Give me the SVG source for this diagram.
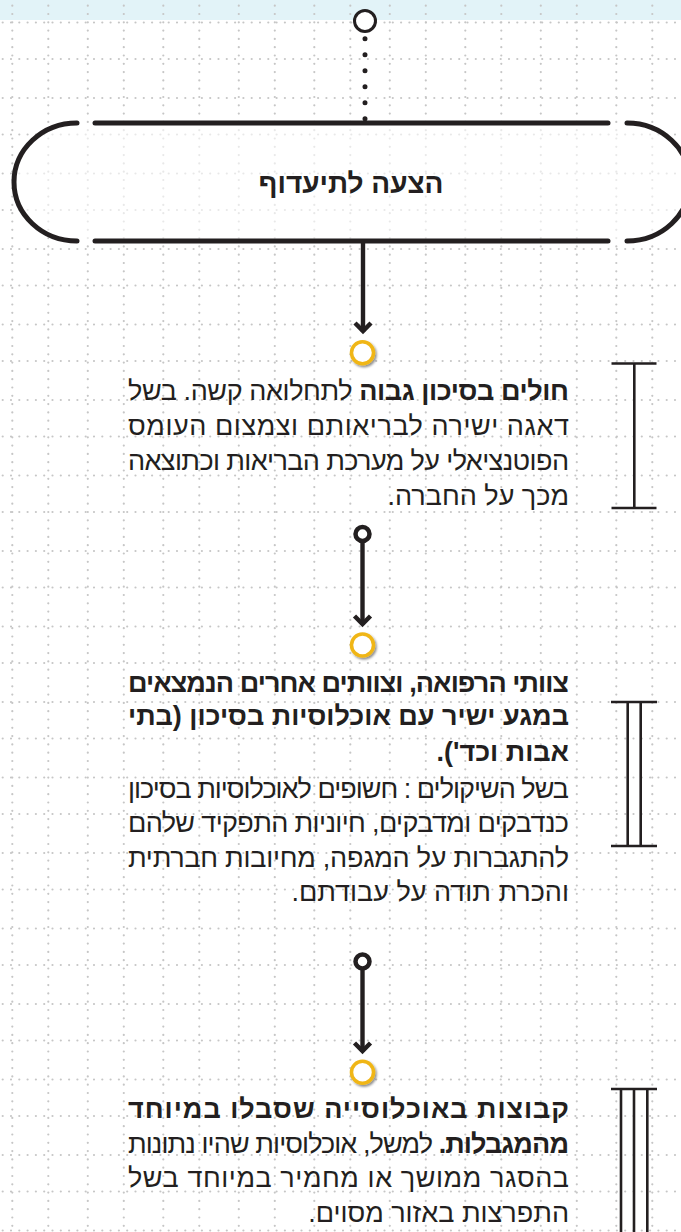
<svg xmlns="http://www.w3.org/2000/svg" width="681" height="1232" viewBox="0 0 681 1232">
<defs>
<style>
.g line{stroke:#c6c6c6;stroke-width:2.2;stroke-linecap:round;stroke-dasharray:0 8.3}
.t{font-family:"Liberation Sans","DejaVu Sans",sans-serif;font-size:27px;fill:#231f20;direction:rtl}
.b{font-weight:700}
.ln{stroke:#231f20;fill:none}
.br{stroke:#231f20;stroke-width:2.6;fill:none}
.y{fill:#fff;stroke:#f0b619;stroke-width:3.5;filter:url(#sh)}
.ring{fill:#fff;stroke:#231f20;stroke-width:4.5}
</style>
<filter id="sh" x="-50%" y="-50%" width="200%" height="200%">
<feDropShadow dx="1.5" dy="1.8" stdDeviation="1.2" flood-color="#000" flood-opacity="0.45"/>
</filter>
<marker id="ah" markerUnits="userSpaceOnUse" viewBox="-12 -12 24 24" markerWidth="24" markerHeight="24" refX="0" refY="0" orient="auto">
<path d="M-9,-8 L-1,0 L-9,8" fill="none" stroke="#231f20" stroke-width="4.5" stroke-linecap="butt" stroke-linejoin="miter"/>
</marker>
</defs>
<rect x="0" y="0" width="681" height="1232" fill="#fff"/>
<rect x="0" y="0" width="681" height="20" fill="#e2f3f8"/>
<g class="g">
<line x1="12.3" y1="5.7" x2="12.3" y2="1232"/><line x1="48.3" y1="5.7" x2="48.3" y2="1232"/>
<line x1="87.8" y1="5.7" x2="87.8" y2="1232"/><line x1="123.8" y1="5.7" x2="123.8" y2="1232"/>
<line x1="163.3" y1="5.7" x2="163.3" y2="1232"/><line x1="199.3" y1="5.7" x2="199.3" y2="1232"/>
<line x1="238.8" y1="5.7" x2="238.8" y2="1232"/><line x1="274.8" y1="5.7" x2="274.8" y2="1232"/>
<line x1="314.3" y1="5.7" x2="314.3" y2="1232"/><line x1="350.3" y1="5.7" x2="350.3" y2="1232"/>
<line x1="389.8" y1="5.7" x2="389.8" y2="1232"/><line x1="425.8" y1="5.7" x2="425.8" y2="1232"/>
<line x1="465.3" y1="5.7" x2="465.3" y2="1232"/><line x1="501.3" y1="5.7" x2="501.3" y2="1232"/>
<line x1="540.8" y1="5.7" x2="540.8" y2="1232"/><line x1="576.8" y1="5.7" x2="576.8" y2="1232"/>
<line x1="616.3" y1="5.7" x2="616.3" y2="1232"/><line x1="652.3" y1="5.7" x2="652.3" y2="1232"/>
<line x1="2.7" y1="22.5" x2="681" y2="22.5"/><line x1="2.7" y1="59" x2="681" y2="59"/>
<line x1="2.7" y1="98" x2="681" y2="98"/><line x1="2.7" y1="134.5" x2="681" y2="134.5"/>
<line x1="2.7" y1="173.5" x2="681" y2="173.5"/><line x1="2.7" y1="210" x2="681" y2="210"/>
<line x1="2.7" y1="249" x2="681" y2="249"/><line x1="2.7" y1="285.5" x2="681" y2="285.5"/>
<line x1="2.7" y1="324.5" x2="681" y2="324.5"/><line x1="2.7" y1="361" x2="681" y2="361"/>
<line x1="2.7" y1="400" x2="681" y2="400"/><line x1="2.7" y1="436.5" x2="681" y2="436.5"/>
<line x1="2.7" y1="475.5" x2="681" y2="475.5"/><line x1="2.7" y1="512" x2="681" y2="512"/>
<line x1="2.7" y1="551" x2="681" y2="551"/><line x1="2.7" y1="587.5" x2="681" y2="587.5"/>
<line x1="2.7" y1="626.5" x2="681" y2="626.5"/><line x1="2.7" y1="663" x2="681" y2="663"/>
<line x1="2.7" y1="702" x2="681" y2="702"/><line x1="2.7" y1="738.5" x2="681" y2="738.5"/>
<line x1="2.7" y1="777.5" x2="681" y2="777.5"/><line x1="2.7" y1="814" x2="681" y2="814"/>
<line x1="2.7" y1="853" x2="681" y2="853"/><line x1="2.7" y1="889.5" x2="681" y2="889.5"/>
<line x1="2.7" y1="928.5" x2="681" y2="928.5"/><line x1="2.7" y1="965" x2="681" y2="965"/>
<line x1="2.7" y1="1004" x2="681" y2="1004"/><line x1="2.7" y1="1040.5" x2="681" y2="1040.5"/>
<line x1="2.7" y1="1079.5" x2="681" y2="1079.5"/><line x1="2.7" y1="1116" x2="681" y2="1116"/>
<line x1="2.7" y1="1155" x2="681" y2="1155"/><line x1="2.7" y1="1191.5" x2="681" y2="1191.5"/>
<line x1="2.7" y1="1230.5" x2="681" y2="1230.5"/>
</g>

<g id="start-node">
<circle cx="365" cy="21" r="10.5" fill="#fff" stroke="#231f20" stroke-width="3"/>
</g>

<g id="node-priority">
<path d="M77,123 H627 A63,59 0 0 1 627,241 H77 A63,59 0 0 1 77,123 Z" fill="#fff" fill-opacity="0.6" stroke="none"/>
<path d="M77,123 A63,59 0 0 0 77,241" class="ln" stroke-width="5" stroke-linecap="round"/>
<path d="M627,123 A63,59 0 0 1 627,241" class="ln" stroke-width="5" stroke-linecap="round"/>
<line x1="95" y1="123" x2="608" y2="123" class="ln" stroke-width="5" stroke-linecap="round"/>
<line x1="95" y1="241" x2="608" y2="241" class="ln" stroke-width="5" stroke-linecap="round"/>
<text x="351" y="193" class="t b" style="font-size:28px" text-anchor="middle">הצעה לתיעדוף</text>
</g>

<g id="connectors">
<line x1="365" y1="38.7" x2="365" y2="119" stroke="#231f20" stroke-width="5" stroke-linecap="round" stroke-dasharray="0 16"/>
<line x1="363" y1="243" x2="363" y2="332" class="ln" stroke-width="4.4" marker-end="url(#ah)"/>
<circle cx="362.5" cy="534" r="7" class="ring"/>
<line x1="362.5" y1="543" x2="362.5" y2="625" class="ln" stroke-width="4.4" marker-end="url(#ah)"/>
<circle cx="362.5" cy="961.5" r="7" class="ring"/>
<line x1="362.5" y1="970" x2="362.5" y2="1052" class="ln" stroke-width="4.4" marker-end="url(#ah)"/>
</g>

<g id="node-high-risk">
<circle cx="362.5" cy="352.7" r="11" class="y"/>
<text class="t" x="569" y="399.5" textLength="441" lengthAdjust="spacing"><tspan class="b">חולים בסיכון גבוה</tspan> לתחלואה קשה. בשל</text>
<text class="t" x="569" y="434.5" textLength="441" lengthAdjust="spacing">דאגה ישירה לבריאותם וצמצום העומס</text>
<text class="t" x="569" y="469.5" textLength="441" lengthAdjust="spacing">הפוטנציאלי על מערכת הבריאות וכתוצאה</text>
<text class="t" x="569" y="504.5">מכך על החברה.</text>
<path d="M611.5,363.5 H656.5 M611.5,508 H656.5 M634.3,363.5 V508" class="br"/>
</g>

<g id="node-medical-teams">
<circle cx="362.5" cy="645" r="11" class="y"/>
<text class="t b" x="569" y="691.5" textLength="441" lengthAdjust="spacing">צוותי הרפואה, וצוותים אחרים הנמצאים</text>
<text class="t b" x="569" y="724.5" textLength="441" lengthAdjust="spacing">במגע ישיר עם אוכלוסיות בסיכון (בתי</text>
<text class="t b" x="569" y="761">אבות וכד').</text>
<text class="t" x="569" y="798" textLength="441" lengthAdjust="spacing">בשל השיקולים : חשופים לאוכלוסיות בסיכון</text>
<text class="t" x="569" y="832" textLength="441" lengthAdjust="spacing">כנדבקים ומדבקים, חיוניות התפקיד שלהם</text>
<text class="t" x="569" y="866.5" textLength="441" lengthAdjust="spacing">להתגברות על המגפה, מחיובות חברתית</text>
<text class="t" x="569" y="901">והכרת תודה על עבודתם.</text>
<path d="M611,702 H657 M611,846 H657 M627.7,702 V846 M640.7,702 V846" class="br"/>
</g>

<g id="node-affected-groups">
<circle cx="362.5" cy="1072.3" r="11" class="y"/>
<text class="t b" x="569" y="1118" textLength="441" lengthAdjust="spacing">קבוצות באוכלוסייה שסבלו במיוחד</text>
<text class="t" x="569" y="1152.5" textLength="441" lengthAdjust="spacing"><tspan class="b">מהמגבלות.</tspan> למשל, אוכלוסיות שהיו נתונות</text>
<text class="t" x="569" y="1187" textLength="441" lengthAdjust="spacing">בהסגר ממושך או מחמיר במיוחד בשל</text>
<text class="t" x="569" y="1222">התפרצות באזור מסוים.</text>
<path d="M611,1089 H657 M621,1089 V1232 M634,1089 V1232 M647.3,1089 V1232" class="br"/>
</g>
</svg>
